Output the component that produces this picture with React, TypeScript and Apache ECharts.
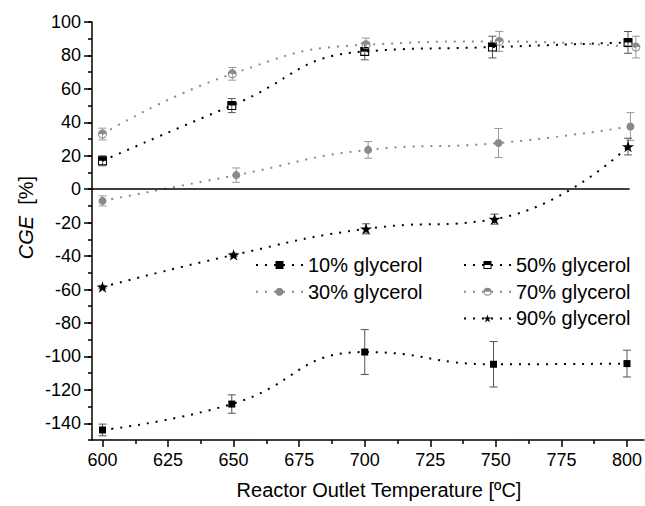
import React, { useEffect, useRef } from "react";
import * as echarts from "echarts";

// ---- data ----
const t10 = [600, 649.3, 700, 749.1, 800];
const cge10 = [-144, -128.5, -97.4, -104.7, -104.3];
const err10 = [3.5, 5.5, 13.4, 13.6, 8];

const t30 = [600, 651, 701.3, 751, 801.3];
const cge30 = [-7, 8.4, 23.5, 27.6, 37.5];
const err30 = [3, 4.3, 5, 8.7, 8.3];

const t50 = [600, 649.3, 700, 748.7, 800.4];
const cge50 = [17, 50, 82.4, 85, 87.8];
const err50 = [3, 4.2, 5, 6.5, 6.5];

const t70 = [600, 649.5, 700.5, 751.3, 803.4];
const cge70 = [33, 69, 86.4, 88.4, 85];
const err70 = [3.5, 3.8, 4, 6, 6.5];

const t90 = [600, 650, 700.5, 749.5, 800.4];
const cge90 = [-58.5, -39.3, -23.7, -17.9, 25.5];
const err90 = [1, 1, 3, 3, 5];

const xMajor = [600, 625, 650, 675, 700, 725, 750, 775, 800];
const xMinor = [612.5, 637.5, 662.5, 687.5, 712.5, 737.5, 762.5, 787.5];
const yMajor = [-140, -120, -100, -80, -60, -40, -20, 0, 20, 40, 60, 80, 100];

const names = ["10% glycerol", "30% glycerol", "50% glycerol", "70% glycerol", "90% glycerol"];

const FONT = "'Liberation Sans', Arial, Helvetica, sans-serif";
const BLACK = "#000";
const GRAY = "#8a8a8a";

// half-filled square: top filled, bottom hollow (hole via opposite winding)
const HALF_SQUARE = "path://M0 0 L10 0 L10 10 L0 10 Z M1.2 5 L1.2 8.8 L8.8 8.8 L8.8 5 Z";
// half-filled circle
const HALF_CIRCLE =
  "path://M0 5 A5 5 0 1 1 10 5 A5 5 0 1 1 0 5 Z M1.2 5 A3.8 3.8 0 0 0 8.8 5 Z";
const STAR =
  "path://M50 0 L61.17 34.63 L97.55 34.55 L68.07 55.87 L79.39 90.45 L50 69 L20.61 90.45 L31.93 55.87 L2.45 34.55 L38.83 34.63 Z";

function pairs(t: number[], v: number[]) {
  return t.map((x, i) => [x, v[i]]);
}
function triples(t: number[], v: number[], e: number[]) {
  return t.map((x, i) => [x, v[i], e[i]]);
}

function errSeries(name: string, data: number[][], color: string) {
  return {
    type: "custom",
    name,
    z: 2,
    silent: true,
    data,
    encode: { x: 0, y: 1 },
    renderItem: (params: any, api: any) => {
      const x = api.value(0);
      const y = api.value(1);
      const e = api.value(2);
      const top = api.coord([x, y + e]);
      const bot = api.coord([x, y - e]);
      const hw = 4;
      const style = { stroke: color, lineWidth: 1 };
      return {
        type: "group",
        children: [
          { type: "line", shape: { x1: top[0], y1: top[1], x2: bot[0], y2: bot[1] }, style },
          { type: "line", shape: { x1: top[0] - hw, y1: top[1], x2: top[0] + hw, y2: top[1] }, style },
          { type: "line", shape: { x1: bot[0] - hw, y1: bot[1], x2: bot[0] + hw, y2: bot[1] }, style },
        ],
      };
    },
  };
}

function lineSeries(name: string, data: number[][], color: string, symbol: string, size: number, extra: any = {}) {
  return {
    type: "line",
    name,
    data,
    smooth: 0.5,
    z: 3,
    symbol,
    symbolSize: size,
    symbolKeepAspect: true,
    showSymbol: true,
    itemStyle: { color, borderWidth: 0 },
    lineStyle: { color, width: 2, type: [2, 7] },
    emphasis: { disabled: true },
    ...extra,
  };
}

export default function App() {
  const ref = useRef<HTMLDivElement>(null);
  useEffect(() => {
    if (!ref.current) return;
    const chart = echarts.init(ref.current, null, { renderer: "svg" });
    const legendCommon = {
      orient: "vertical",
      top: 255,
      padding: 0,
      itemWidth: 47,
      itemHeight: 10,
      itemGap: 6.7,
      selectedMode: false,
      textStyle: { fontSize: 20, color: "#000", fontFamily: FONT, lineHeight: 20 },
    };
    const option: any = {
      animation: false,
      backgroundColor: "#fff",
      textStyle: { fontFamily: FONT },
      grid: { left: 92, right: 0, top: 22, bottom: 66, containLabel: false },
      legend: [
        { ...legendCommon, left: 255, data: [names[0], names[1]] },
        { ...legendCommon, left: 463, data: [names[2], names[3], names[4]] },
      ],
      xAxis: [
        {
          type: "value",
          min: 596,
          max: 806.5,
          position: "bottom",
          axisLine: { show: true, onZero: false, lineStyle: { color: "#000", width: 1.5 } },
          axisTick: { show: true, length: 7, customValues: xMajor, lineStyle: { color: "#000", width: 1.5 } },
          axisLabel: { customValues: xMajor, fontSize: 18, color: "#000", margin: 11, fontFamily: FONT },
          splitLine: { show: false },
        },
        {
          type: "value",
          min: 596,
          max: 806.5,
          position: "bottom",
          axisLine: { show: false, onZero: false },
          axisTick: { show: true, length: 4, customValues: xMinor, lineStyle: { color: "#000", width: 1.5 } },
          axisLabel: { show: false },
          splitLine: { show: false },
        },
      ],
      yAxis: [
        {
          type: "value",
          min: -150,
          max: 100,
          position: "left",
          axisLine: { show: true, onZero: false, lineStyle: { color: "#000", width: 1.5 } },
          axisTick: { show: true, length: 8, customValues: yMajor, lineStyle: { color: "#000", width: 1.5 } },
          axisLabel: { customValues: yMajor, fontSize: 18, color: "#000", margin: 11, fontFamily: FONT },
          splitLine: { show: false },
        },
        {
          type: "value",
          min: -150,
          max: 100,
          interval: 10,
          position: "left",
          axisLine: { show: false, onZero: false },
          axisTick: { show: true, length: 4, lineStyle: { color: "#000", width: 1.5 } },
          axisLabel: { show: false },
          splitLine: { show: false },
        },
      ],
      graphic: [
        {
          type: "text",
          x: 26,
          y: 217.5,
          rotation: Math.PI / 2,
          style: {
            text: "{i|CGE}  [%]",
            rich: { i: { fontStyle: "italic", fontSize: 20, fontFamily: FONT, fill: "#000" } },
            fontSize: 20,
            fontFamily: FONT,
            fill: "#000",
            align: "center",
            verticalAlign: "middle",
            textAlign: "center",
            textVerticalAlign: "middle",
          },
        },
        {
          type: "text",
          x: 379,
          y: 490,
          style: {
            text: "Reactor Outlet Temperature [ºC]",
            fontSize: 20,
            fontFamily: FONT,
            fill: "#000",
            align: "center",
            verticalAlign: "middle",
            textAlign: "center",
            textVerticalAlign: "middle",
          },
        },
      ],
      series: [
        errSeries("e10", triples(t10, cge10, err10), "#555"),
        errSeries("e30", triples(t30, cge30, err30), "#999"),
        errSeries("e50", triples(t50, cge50, err50), "#555"),
        errSeries("e70", triples(t70, cge70, err70), "#999"),
        errSeries("e90", triples(t90, cge90, err90), "#555"),
        lineSeries(names[0], pairs(t10, cge10), BLACK, "rect", 7, {
          markLine: {
            silent: true,
            symbol: "none",
            label: { show: false },
            lineStyle: { color: "#000", width: 1.5, type: "solid" },
            emphasis: { disabled: true },
            data: [[{ coord: [596, 0] }, { coord: [801, 0] }]],
          },
        }),
        lineSeries(names[1], pairs(t30, cge30), GRAY, "circle", 8),
        lineSeries(names[2], pairs(t50, cge50), BLACK, HALF_SQUARE, 9),
        lineSeries(names[3], pairs(t70, cge70), GRAY, HALF_CIRCLE, 9),
        lineSeries(names[4], pairs(t90, cge90), BLACK, STAR, 12),
      ],
    };
    chart.setOption(option);
    return () => chart.dispose();
  }, []);
  return (
    <div
      ref={ref}
      style={{ position: "fixed", left: 0, top: 0, width: 645, height: 506, background: "#fff" }}
    />
  );
}
